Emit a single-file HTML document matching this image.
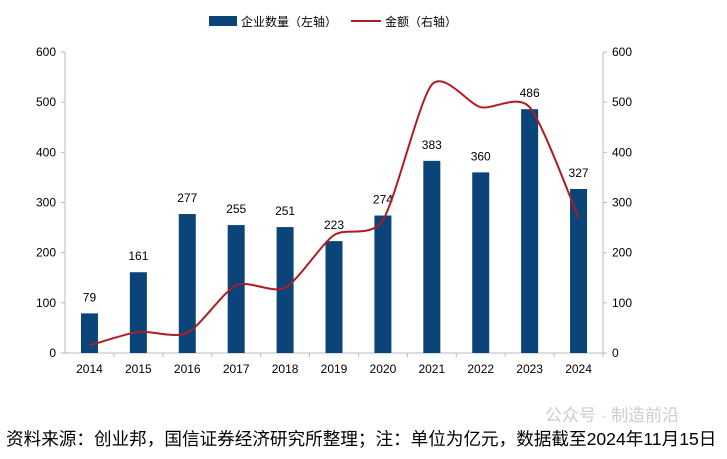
<!DOCTYPE html>
<html><head><meta charset="utf-8"><style>
body{margin:0;background:#fff;width:727px;height:459px;overflow:hidden;font-family:"Liberation Sans","Noto Sans CJK SC",sans-serif}
</style></head><body>
<svg id="c" width="727" height="459" style="position:absolute;left:0;top:0"></svg>
<div style="position:absolute;left:6px;top:426px;font-size:17.6px;color:#000;white-space:nowrap;font-family:'Liberation Sans','Noto Sans CJK SC',sans-serif">资料来源：创业邦，国信证券经济研究所整理；注：单位为亿元，数据截至2024年11月15日</div>
<div style="position:absolute;left:545px;top:401px;font-size:17px;color:#ccc;font-family:'Liberation Sans','Noto Sans CJK SC',sans-serif">公众号 · 制造前沿</div>
<script>
const years=["2014","2015","2016","2017","2018","2019","2020","2021","2022","2023","2024"];
const counts=[79,161,277,255,251,223,274,383,360,486,327];
const amounts=[15,42,40,135,130,235,265,535,490,490,270];
const ticks=[0,100,200,300,400,500,600];
const svg=document.getElementById('c');const NS='http://www.w3.org/2000/svg';
const x0=65,x1=603,yb=353,yt=52;
const step=(x1-x0)/years.length;
const xc=i=>x0+step*(i+0.5);
const y=v=>yb-(v/600)*(yb-yt);
function mk(t,a,txt){const e=document.createElementNS(NS,t);for(const k in a)e.setAttribute(k,a[k]);if(txt!=null)e.textContent=txt;svg.appendChild(e);return e;}
let e;
e=mk('line',{x1:x0,y1:yt,x2:x0,y2:yb,stroke:'#bbb'});
e=mk('line',{x1:x1,y1:yt,x2:x1,y2:yb,stroke:'#bbb'});
e=mk('line',{x1:x0,y1:yb,x2:x1,y2:yb,stroke:'#bbb'});
ticks.forEach(t=>{
 mk('line',{x1:x0-4,y1:y(t),x2:x0,y2:y(t),stroke:'#bbb'});
 mk('line',{x1:x1,y1:y(t),x2:x1+4,y2:y(t),stroke:'#bbb'});
 e=mk('text',{x:x0-9,y:y(t)+4,'text-anchor':'end','font-size':12},t);
 e=mk('text',{x:x1+9,y:y(t)+4,'text-anchor':'start','font-size':12},t);
});
years.forEach((yr,i)=>{
 mk('line',{x1:x0+step*(i+1),y1:yb,x2:x0+step*(i+1),y2:yb+4,stroke:'#bbb'});
 e=mk('rect',{x:xc(i)-8.5,y:y(counts[i]),width:17,height:yb-y(counts[i]),fill:'#0a4478'});
 e=mk('text',{x:xc(i),y:y(counts[i])-12,'text-anchor':'middle','font-size':12},counts[i]);
 e=mk('text',{x:xc(i),y:yb+20,'text-anchor':'middle','font-size':12},yr);
});
const pts=amounts.map((v,i)=>[xc(i),y(v)]);
let d='M'+pts[0].join(',');
for(let i=0;i<pts.length-1;i++){const p0=pts[i-1]||pts[i],p1=pts[i],p2=pts[i+1],p3=pts[i+2]||p2;
 d+=` C${p1[0]+(p2[0]-p0[0])/8},${p1[1]+(p2[1]-p0[1])/8} ${p2[0]-(p3[0]-p1[0])/8},${p2[1]-(p3[1]-p1[1])/8} ${p2[0]},${p2[1]}`;}
e=mk('path',{d:d,fill:'none',stroke:'#b01c24','stroke-width':2});
e=mk('rect',{x:209,y:16,width:28,height:10,fill:'#0a4478'});
e=mk('text',{x:241,y:26,'font-size':12},'企业数量（左轴）');
e=mk('line',{x1:351,y1:21,x2:381,y2:21,stroke:'#b01c24','stroke-width':2});
e=mk('text',{x:385,y:26,'font-size':12},'金额（右轴）');
</script>
</body></html>
